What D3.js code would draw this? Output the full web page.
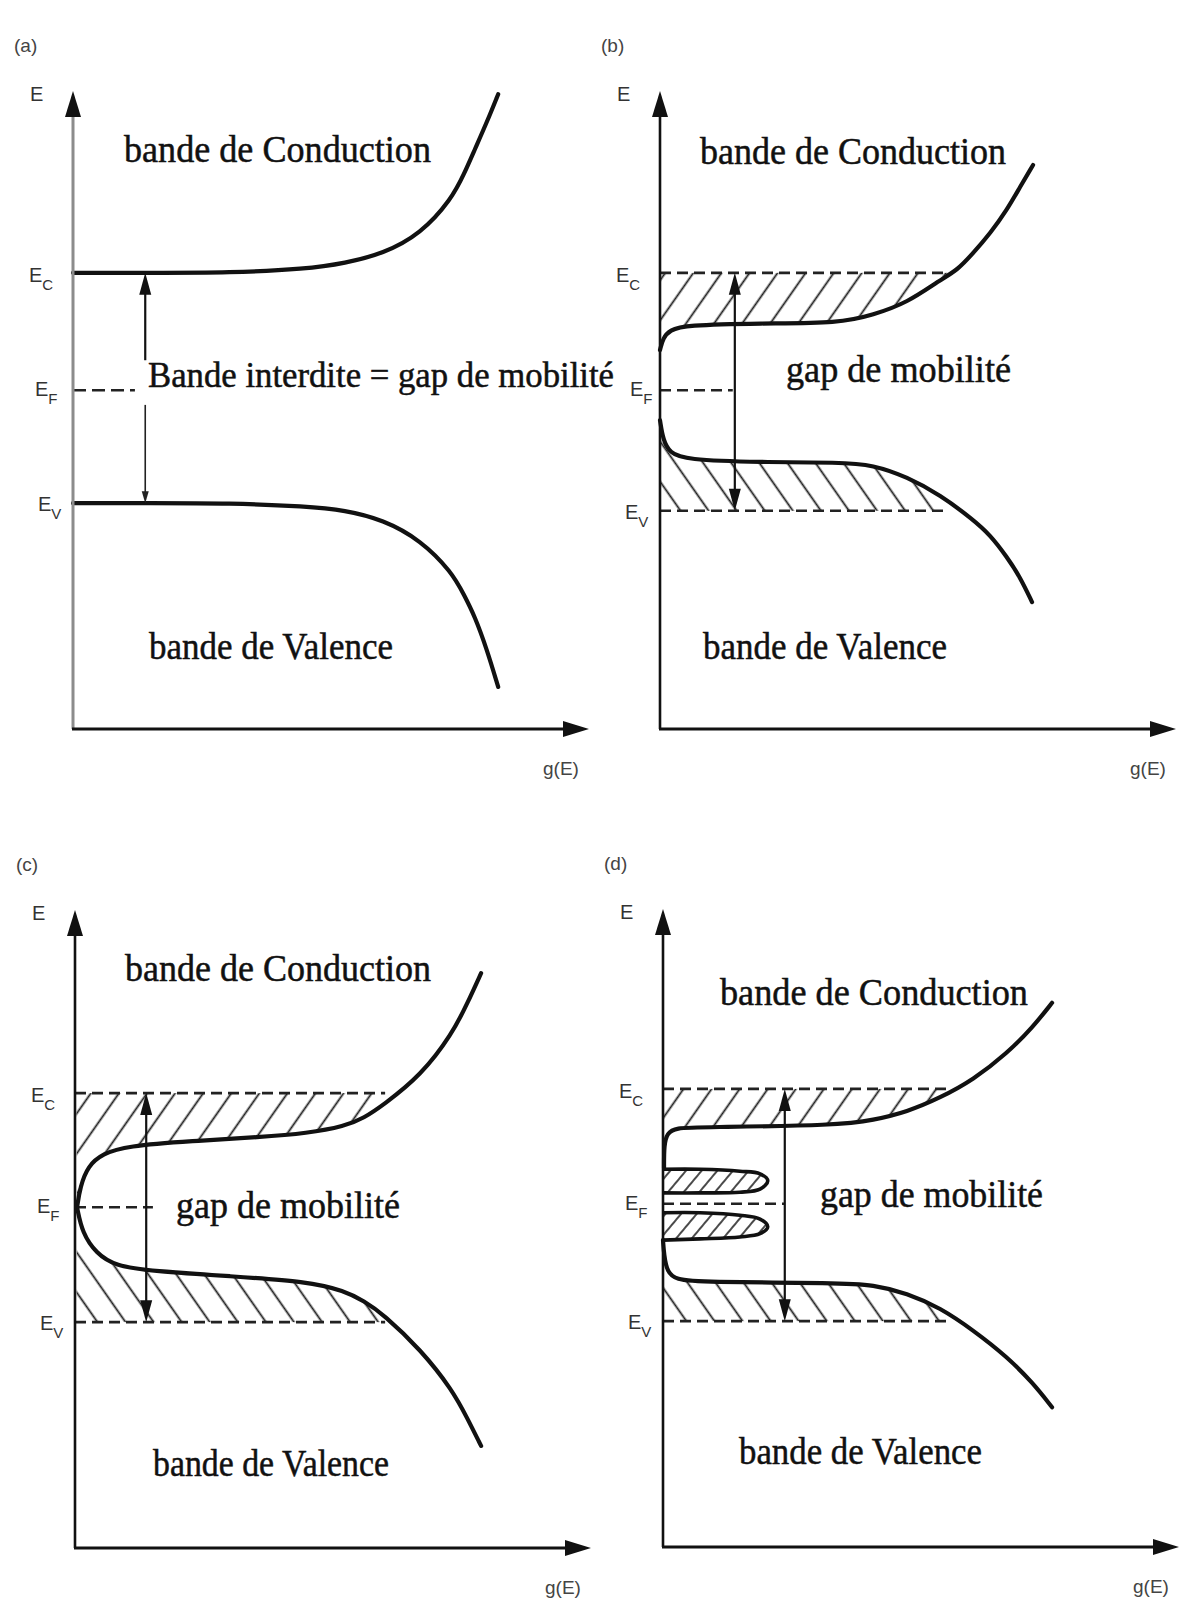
<!DOCTYPE html>
<html>
<head>
<meta charset="utf-8">
<script src="https://cdn.jsdelivr.net/npm/d3@7"></script>
<style>
  body { margin: 0; background: #fff; }
  svg { display: block; }
</style>
</head>
<body>
<script>
// Density of states g(E) near the mobility gap, four cases (a)–(d).
// Both axes use abstract units: g(E) runs 0–100 along x, E runs 0–100 along y.

const panelIds = ["a", "b", "c", "d"];
const levelNames = ["C", "F", "V"];          // E_C, E_F, E_V

// energy levels [E_C, E_F, E_V] per panel
const levelsA = [71.5, 53.1, 35.4];
const levelsB = [71.5, 53.1, 34.2];
const levelsC = [71.3, 53.4, 35.4];
const levelsD = [71.8, 53.8, 35.4];

// how far each dashed level line runs along g(E) [E_C, E_F, E_V]
const dashEndA = [null, 12.0, null];
const dashEndB = [55.8, 14.1, 55.8];
const dashEndC = [60.1, 15.1, 60.1];
const dashEndD = [55.2, 23.6, 55.2];

// band edges: [g, E]
const conductionA = [[0,71.5],[14.9,71.5],[30.4,71.5],[45.2,72.1],[52.7,73.0],[60.1,74.5],[67.4,77.6],[73.4,83.1],[75.8,87.0],[77.9,90.9],[80.2,95.1],[82.4,99.5]];
const valenceA    = [[0,35.4],[14.9,35.4],[30.4,35.4],[45.2,34.9],[52.7,34.3],[60.1,32.8],[67.4,29.6],[73.4,24.6],[75.8,21.0],[77.9,17.6],[80.2,12.5],[82.4,6.6]];

const conductionB = [[0,59.4],[0.6,61.3],[1.9,62.5],[4.8,63.3],[19.4,63.6],[34.9,63.6],[41.3,64.9],[47.9,66.8],[54.3,70.4],[57.6,71.9],[60.7,74.6],[64.0,77.7],[67.2,81.3],[69.8,85.0],[72.3,88.4]];
const valenceB    = [[0,48.4],[0.6,45.3],[1.9,43.3],[4.8,42.2],[19.4,41.8],[34.9,41.8],[41.3,41.4],[47.9,39.5],[54.3,36.7],[60.7,32.8],[64.0,30.4],[67.2,27.0],[69.8,23.8],[72.1,19.9]];

const conductionC = [[0.4,53.4],[1.0,56.6],[2.5,59.9],[5.4,61.8],[9.9,63.0],[22.7,63.8],[35.9,64.4],[45.0,65.0],[52.3,66.1],[56.0,67.4],[59.7,69.4],[67.1,74.1],[73.1,80.6],[76.0,85.3],[78.7,90.1]];
const valenceC    = [[0.4,53.4],[1.4,49.4],[4.1,46.2],[7.8,44.2],[15.1,43.4],[30.0,42.6],[45.0,41.8],[52.3,40.3],[56.0,38.7],[59.7,36.7],[67.1,31.0],[73.1,24.8],[76.0,20.4],[78.7,16.0]];

const conductionD = [[0.2,59.4],[0.2,63.0],[0.8,64.9],[2.5,65.7],[7.2,65.8],[34.3,66.1],[40.7,66.9],[47.3,68.2],[53.7,70.4],[60.1,73.2],[66.7,77.4],[71.7,81.5],[75.4,85.3]];
const valenceD    = [[0,48.1],[0.2,45.8],[0.8,43.1],[2.5,41.9],[7.2,41.5],[34.3,41.4],[40.7,41.1],[47.3,39.8],[53.7,37.5],[60.1,34.0],[66.7,29.8],[71.7,25.7],[75.4,21.9]];

// localized impurity bands around E_F in (d)
const upperLobeD = [[0,59.2],[7.2,59.2],[14.9,58.9],[18.8,58.5],[20.3,57.4],[18.8,56.1],[14.9,55.6],[7.2,55.5],[0,55.5]];
const lowerLobeD = [[0,52.4],[7.2,52.4],[14.9,52.0],[18.8,51.4],[20.3,50.2],[18.8,49.1],[14.9,48.6],[7.2,48.3],[0,48.1]];

// position of the E_C–E_V arrow along g(E)
const arrowG = [14.0, 14.5, 13.8, 23.6];
// in (a) the arrow is split around the label: [upper start, lower start]
const arrowSplitA = [57.8, 50.8];

// text
const panelLetters = ["(a)", "(b)", "(c)", "(d)"];
const axisY = "E";
const axisX = "g(E)";
const textConduction = "bande de Conduction";
const textValence = "bande de Valence";
const textGapA = "Bande interdite = gap de mobilité";
const textGap = "gap de mobilité";

// ---------------------------------------------------------------------------
const W = 516, H = 638;
const svg = d3.select("body").append("svg")
  .attr("width", 1182).attr("height", 1598);
svg.append("rect").attr("width", 1182).attr("height", 1598).attr("fill", "#fff");
const defs = svg.append("defs");

function hatch(id, gap, angle, sw) {
  const p = defs.append("pattern").attr("id", id)
    .attr("patternUnits", "userSpaceOnUse")
    .attr("width", gap).attr("height", gap)
    .attr("patternTransform", `rotate(${angle})`);
  p.append("line").attr("x1", gap / 2).attr("x2", gap / 2)
    .attr("y1", -1).attr("y2", gap + 1)
    .attr("stroke", "#1c1c1c").attr("stroke-width", sw);
}
hatch("hatchUp", 23, 35, 1.8);
hatch("hatchDown", 23, -35, 1.8);
hatch("hatchFine", 12, 40, 1.6);

// texts: [string, dx, dy, width, font size]
const panels = [
  { id: "a", ox: 73,  oy: 729,  levels: levelsA, dashEnd: dashEndA, cond: conductionA, val: valenceA, hatched: false,
    greyAxis: true, labelShift: [0, 0, 0],
    texts: [[textConduction, 51, -567, 307, 38], [textValence, 76, -70, 244, 38], [textGapA, 75, -342, 466, 35]] },
  { id: "b", ox: 660, oy: 729,  levels: levelsB, dashEnd: dashEndB, cond: conductionB, val: valenceB, hatched: true,
    labelShift: [0, 8, 0],
    texts: [[textConduction, 40, -565, 306, 38], [textValence, 43, -70, 244, 38], [textGap, 126, -347, 225, 38]] },
  { id: "c", ox: 75,  oy: 1548, levels: levelsC, dashEnd: dashEndC, cond: conductionC, val: valenceC, hatched: true,
    labelShift: [0, 0, 0],
    texts: [[textConduction, 50, -567, 306, 38], [textValence, 78, -72, 236, 38], [textGap, 101, -330, 224, 38]] },
  { id: "d", ox: 663, oy: 1547, levels: levelsD, dashEnd: dashEndD, cond: conductionD, val: valenceD, hatched: true,
    lobes: [upperLobeD, lowerLobeD], labelShift: [0, 0, 0],
    texts: [[textConduction, 57, -542, 308, 38], [textValence, 76, -83, 243, 38], [textGap, 157, -340, 223, 38]] }
];

const labelFont = "'Liberation Sans', Arial, sans-serif";
const bodyFont = "'Liberation Serif', 'Times New Roman', serif";
const labelOffsetX = [-44, -38, -35];
const labelOffsetY = [9, 6, 8];

panels.forEach((p, i) => {
  const x = d3.scaleLinear().domain([0, 100]).range([p.ox, p.ox + W]);
  const y = d3.scaleLinear().domain([0, 100]).range([p.oy, p.oy - H]);
  // smooth band edges; the impurity lobes keep their rounded tips with Catmull–Rom
  const edge = d3.line().x(d => x(d[0])).y(d => y(d[1])).curve(d3.curveBasis);
  const lobeLine = d3.line().x(d => x(d[0])).y(d => y(d[1])).curve(d3.curveCatmullRom.alpha(0.5));
  const g = svg.append("g").attr("class", "panel-" + p.id);
  const [Ec, Ef, Ev] = p.levels;

  // hatched tails of the extended states between the band edges and E_C / E_V
  if (p.hatched) {
    const cid = "clipCond" + p.id, vid = "clipVal" + p.id;
    defs.append("clipPath").attr("id", cid).append("path")
      .attr("d", edge(p.cond) + `L${x(0)},${y(100)}Z`);
    defs.append("clipPath").attr("id", vid).append("path")
      .attr("d", edge(p.val) + `L${x(0)},${y(0)}Z`);
    g.append("rect").attr("x", x(0)).attr("y", y(Ec)).attr("width", W).attr("height", y(Ev) - y(Ec))
      .attr("fill", "url(#hatchUp)").attr("clip-path", `url(#${cid})`);
    g.append("rect").attr("x", x(0)).attr("y", y(Ec)).attr("width", W).attr("height", y(Ev) - y(Ec))
      .attr("fill", "url(#hatchDown)").attr("clip-path", `url(#${vid})`);
  }

  // dashed level lines
  p.levels.forEach((lv, k) => {
    if (p.dashEnd[k] == null) return;
    g.append("line")
      .attr("x1", x(0)).attr("x2", x(p.dashEnd[k]))
      .attr("y1", y(lv)).attr("y2", y(lv))
      .attr("stroke", "#222").attr("stroke-width", 2.6)
      .attr("stroke-dasharray", p.id === "a" ? "13,6" : "11,6");
  });

  // impurity bands
  if (p.lobes) {
    p.lobes.forEach(lobe => {
      g.append("path").attr("d", lobeLine(lobe))
        .attr("fill", "url(#hatchFine)")
        .attr("stroke", "#111").attr("stroke-width", 3.6).attr("stroke-linejoin", "round");
    });
  }

  // band edges
  [p.cond, p.val].forEach(c => {
    g.append("path").attr("d", edge(c)).attr("fill", "none")
      .attr("stroke", "#111").attr("stroke-width", 4.2).attr("stroke-linecap", "round");
  });

  // axes with arrow heads
  g.append("line").attr("x1", x(0)).attr("x2", x(0)).attr("y1", y(0)).attr("y2", y(100) + 20)
    .attr("stroke", p.greyAxis ? "#8c8c8c" : "#111").attr("stroke-width", p.greyAxis ? 3 : 2.6);
  g.append("line").attr("x1", x(0) - 1).attr("x2", x(100) - 20).attr("y1", y(0)).attr("y2", y(0))
    .attr("stroke", "#111").attr("stroke-width", 2.8);
  g.append("path").attr("fill", "#111")
    .attr("d", `M${x(0)},${y(100)} L${x(0) - 8},${y(100) + 26} L${x(0) + 8},${y(100) + 26} Z`);
  g.append("path").attr("fill", "#111")
    .attr("d", `M${x(100)},${y(0)} L${x(100) - 26},${y(0) - 8} L${x(100) - 26},${y(0) + 8} Z`);

  // E_C <-> E_V arrow
  const ax = x(arrowG[i]);
  const head = (yt, dir, len, hw) =>
    `M${ax},${yt} L${ax - hw},${yt + dir * len} L${ax + hw},${yt + dir * len} Z`;
  if (p.id === "a") {
    g.append("line").attr("x1", ax).attr("x2", ax).attr("y1", y(arrowSplitA[0])).attr("y2", y(Ec) + 10)
      .attr("stroke", "#111").attr("stroke-width", 2.2);
    g.append("line").attr("x1", ax).attr("x2", ax).attr("y1", y(arrowSplitA[1])).attr("y2", y(Ev) - 6)
      .attr("stroke", "#222").attr("stroke-width", 1.6);
    g.append("path").attr("d", head(y(Ec), 1, 22, 6)).attr("fill", "#111");
    g.append("path").attr("d", head(y(Ev), -1, 12, 3.5)).attr("fill", "#222");
  } else {
    g.append("line").attr("x1", ax).attr("x2", ax).attr("y1", y(Ec) + 10).attr("y2", y(Ev) - 10)
      .attr("stroke", "#111").attr("stroke-width", 2.2);
    g.append("path").attr("d", head(y(Ec), 1, 22, 6)).attr("fill", "#111");
    g.append("path").attr("d", head(y(Ev), -1, 22, 6)).attr("fill", "#111");
  }

  // axis and level labels
  g.append("text").attr("x", p.ox - 59).attr("y", p.oy - 677)
    .attr("font-family", labelFont).attr("font-size", 19).attr("fill", "#444")
    .text(panelLetters[i]);
  g.append("text").attr("x", x(0) - 43).attr("y", y(100) + 10)
    .attr("font-family", labelFont).attr("font-size", 20).attr("fill", "#333")
    .text(axisY);
  g.append("text").attr("x", x(0) + 470).attr("y", y(0) + 46)
    .attr("font-family", labelFont).attr("font-size", 19).attr("fill", "#444")
    .text(axisX);
  p.levels.forEach((lv, k) => {
    const t = g.append("text").attr("x", x(0) + labelOffsetX[k] + p.labelShift[k]).attr("y", y(lv) + labelOffsetY[k])
      .attr("font-family", labelFont).attr("font-size", 20).attr("fill", "#333");
    t.append("tspan").text("E");
    t.append("tspan").attr("dy", 8).attr("font-size", 15).text(levelNames[k]);
  });

  // band names
  p.texts.forEach(([str, dx, dy, len, fs]) => {
    g.append("text").attr("x", p.ox + dx).attr("y", p.oy + dy)
      .attr("font-family", bodyFont).attr("font-size", fs)
      .attr("fill", "#111").attr("stroke", "#111").attr("stroke-width", 0.5)
      .attr("textLength", len).attr("lengthAdjust", "spacingAndGlyphs")
      .text(str);
  });
});
</script>
</body>
</html>
